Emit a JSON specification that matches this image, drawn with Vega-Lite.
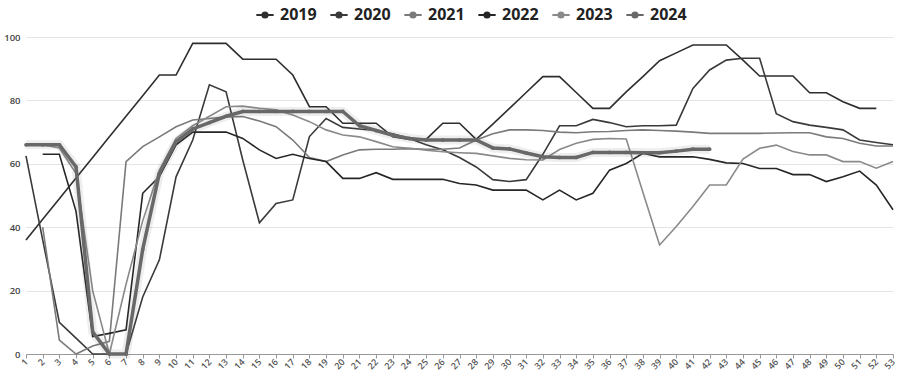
{
  "$schema": "https://vega.github.io/schema/vega-lite/v6.json",
  "width": 867,
  "height": 317,
  "autosize": {"type": "none"},
  "padding": {"left": 26, "top": 37, "right": 7, "bottom": 21},
  "background": "white",
  "config": {"view": {"stroke": null}, "font": "Open Sans"},
  "data": {"values": [
    {"week": 1, "2019": 36, "2020": 62.5, "2023": 66, "2024": 66},
    {"week": 2, "2019": 42.5, "2020": 36, "2021": 40, "2022": 63, "2023": 66, "2024": 66},
    {"week": 3, "2019": 49, "2020": 10, "2021": 4.4, "2022": 63, "2023": 65, "2024": 66},
    {"week": 4, "2019": 55.5, "2020": 5, "2021": 0, "2022": 45, "2023": 57, "2024": 59},
    {"week": 5, "2019": 62, "2020": 0, "2021": 2.5, "2022": 5.5, "2023": 20, "2024": 7},
    {"week": 6, "2019": 68.5, "2020": 0, "2021": 4, "2022": 6.5, "2023": 0, "2024": 0},
    {"week": 7, "2019": 75, "2020": 0, "2021": 60.7, "2022": 7.6, "2023": 22, "2024": 0},
    {"week": 8, "2019": 81.5, "2020": 18, "2021": 65.4, "2022": 50.7, "2023": 42, "2024": 33},
    {"week": 9, "2019": 88, "2020": 29.7, "2021": 68.5, "2022": 56, "2023": 58, "2024": 57},
    {"week": 10, "2019": 88, "2020": 55.9, "2021": 71.7, "2022": 66, "2023": 68, "2024": 67},
    {"week": 11, "2019": 98, "2020": 67.5, "2021": 73.8, "2022": 70, "2023": 72, "2024": 71},
    {"week": 12, "2019": 98, "2020": 84.9, "2021": 74.3, "2022": 70, "2023": 75, "2024": 73},
    {"week": 13, "2019": 98, "2020": 82.7, "2021": 74.8, "2022": 70, "2023": 78, "2024": 75},
    {"week": 14, "2019": 93, "2020": 61.2, "2021": 74.9, "2022": 68, "2023": 78.2, "2024": 76.5},
    {"week": 15, "2019": 93, "2020": 41.4, "2021": 73.5, "2022": 64.4, "2023": 77.5, "2024": 76.5},
    {"week": 16, "2019": 93, "2020": 47.5, "2021": 71.7, "2022": 61.7, "2023": 77, "2024": 76.5},
    {"week": 17, "2019": 88, "2020": 48.6, "2021": 67.5, "2022": 63, "2023": 75.4, "2024": 76.5},
    {"week": 18, "2019": 78, "2020": 68.6, "2021": 62, "2022": 61.7, "2023": 73.3, "2024": 76.5},
    {"week": 19, "2019": 78, "2020": 74.3, "2021": 60.7, "2022": 60.7, "2023": 70.7, "2024": 76.5},
    {"week": 20, "2019": 72.8, "2020": 71.5, "2021": 62.8, "2022": 55.4, "2023": 69.1, "2024": 76.5},
    {"week": 21, "2019": 72.8, "2020": 71, "2021": 64.4, "2022": 55.4, "2023": 68.5, "2024": 72},
    {"week": 22, "2019": 72.8, "2020": 70.5, "2021": 64.6, "2022": 57.2, "2023": 67, "2024": 70.5},
    {"week": 23, "2019": 68.5, "2020": 69.5, "2021": 64.6, "2022": 55.1, "2023": 65.4, "2024": 69},
    {"week": 24, "2019": 67.7, "2020": 68, "2021": 64.8, "2022": 55.1, "2023": 64.9, "2024": 68},
    {"week": 25, "2019": 67.7, "2020": 66, "2021": 64.6, "2022": 55.1, "2023": 64.3, "2024": 67.5},
    {"week": 26, "2019": 72.8, "2020": 64.4, "2021": 64.6, "2022": 55.1, "2023": 63.8, "2024": 67.5},
    {"week": 27, "2019": 72.8, "2020": 62, "2021": 65, "2022": 53.8, "2023": 63.5, "2024": 67.5},
    {"week": 28, "2019": 67.7, "2020": 59, "2021": 67.5, "2022": 53.3, "2023": 63.3, "2024": 67.5},
    {"week": 29, "2019": 72.5, "2020": 55, "2021": 69.5, "2022": 51.7, "2023": 62.5, "2024": 65},
    {"week": 30, "2019": 77.5, "2020": 54.4, "2021": 70.7, "2022": 51.7, "2023": 61.7, "2024": 64.7},
    {"week": 31, "2019": 82.5, "2020": 55, "2021": 70.7, "2022": 51.7, "2023": 61.3, "2024": 63.4},
    {"week": 32, "2019": 87.5, "2020": 63, "2021": 70.5, "2022": 48.6, "2023": 61.2, "2024": 62.2},
    {"week": 33, "2019": 87.5, "2020": 72, "2021": 70, "2022": 51.7, "2023": 64.5, "2024": 62},
    {"week": 34, "2019": 82.5, "2020": 72, "2021": 69.8, "2022": 48.6, "2023": 66.5, "2024": 62},
    {"week": 35, "2019": 77.5, "2020": 74, "2021": 70.1, "2022": 50.7, "2023": 67.7, "2024": 63.6},
    {"week": 36, "2019": 77.5, "2020": 73, "2021": 70.2, "2022": 58, "2023": 68, "2024": 63.6},
    {"week": 37, "2019": 82.7, "2020": 71.7, "2021": 70.5, "2022": 60.1, "2023": 67.8, "2024": 63.6},
    {"week": 38, "2019": 87.5, "2020": 72, "2021": 70.7, "2022": 63.3, "2023": 51, "2024": 63.5},
    {"week": 39, "2019": 92.5, "2020": 72, "2021": 70.5, "2022": 62.2, "2023": 34.4, "2024": 63.5},
    {"week": 40, "2019": 95, "2020": 72.2, "2021": 70.3, "2022": 62.2, "2023": 40.2, "2024": 64},
    {"week": 41, "2019": 97.5, "2020": 83.8, "2021": 70, "2022": 62.2, "2023": 46.5, "2024": 64.6},
    {"week": 42, "2019": 97.5, "2020": 89.6, "2021": 69.6, "2022": 61.4, "2023": 53.3, "2024": 64.6},
    {"week": 43, "2019": 97.5, "2020": 92.7, "2021": 69.6, "2022": 60.3, "2023": 53.3},
    {"week": 44, "2019": 92.7, "2020": 93.3, "2021": 69.6, "2022": 60.1, "2023": 61.5},
    {"week": 45, "2019": 87.7, "2020": 93.3, "2021": 69.6, "2022": 58.5, "2023": 64.9},
    {"week": 46, "2019": 87.7, "2020": 75.8, "2021": 69.7, "2022": 58.5, "2023": 65.9},
    {"week": 47, "2019": 87.7, "2020": 73.3, "2021": 69.8, "2022": 56.6, "2023": 63.9},
    {"week": 48, "2019": 82.4, "2020": 72.2, "2021": 69.8, "2022": 56.6, "2023": 62.8},
    {"week": 49, "2019": 82.4, "2020": 71.5, "2021": 68.5, "2022": 54.4, "2023": 62.8},
    {"week": 50, "2019": 79.6, "2020": 70.7, "2021": 68, "2022": 55.9, "2023": 60.7},
    {"week": 51, "2019": 77.5, "2020": 67.5, "2021": 66.5, "2022": 57.7, "2023": 60.7},
    {"week": 52, "2019": 77.5, "2020": 66.7, "2021": 65.6, "2022": 53.3, "2023": 58.6},
    {"week": 53, "2020": 66, "2021": 65.6, "2022": 45.5, "2023": 60.7}
  ]},
  "transform": [
    {"fold": ["2019", "2020", "2021", "2022", "2023", "2024"], "as": ["year", "value"]}
  ],
  "encoding": {
    "x": {
      "field": "week", "type": "ordinal",
      "scale": {"type": "point", "padding": 0},
      "axis": {
        "title": null, "labelAngle": -45, "labelAlign": "right", "labelBaseline": "middle",
        "labelFontSize": 9, "labelFontWeight": 600, "labelColor": "#555",
        "labelPadding": 2, "labelOverlap": false,
        "domainColor": "#999", "tickColor": "#999", "tickSize": 4, "grid": false
      }
    },
    "y": {
      "field": "value", "type": "quantitative",
      "scale": {"domain": [0, 100], "nice": false},
      "axis": {
        "title": null, "values": [0, 20, 40, 60, 80, 100],
        "labelFontSize": 9.5, "labelFontWeight": 600, "labelColor": "#444",
        "labelPadding": 6, "ticks": false, "domain": false,
        "gridColor": "#e4e4e4", "gridWidth": 1
      }
    }
  },
  "layer": [
    {
      "transform": [{"filter": "datum.year != '2024'"}],
      "mark": {"type": "line", "strokeWidth": 1.6},
      "encoding": {
        "color": {
          "field": "year", "type": "nominal",
          "scale": {
            "domain": ["2019", "2020", "2021", "2022", "2023", "2024"],
            "range": ["#2e2e2e", "#3a3a3a", "#7a7a7a", "#262626", "#8a8a8a", "#686868"]
          },
          "legend": {
            "title": null, "orient": "none", "direction": "horizontal",
            "legendX": 229, "legendY": -32,
            "labelFontSize": 16, "labelFontWeight": "bold", "labelColor": "#222",
            "labelFont": "Open Sans",
            "symbolType": "M-1,0H-0.3M0.3,0H1M-0.3,0A0.3,0.3 0 1,1 0.3,0A0.3,0.3 0 1,1 -0.3,0",
            "symbolSize": 300, "symbolStrokeWidth": 2, "labelOffset": 5, "columnPadding": 9,
            "encode": {"symbols": {"update": {"fill": {"scale": "color", "field": "value"}}}}
          }
        },
        "detail": {"field": "year"}
      }
    },
    {
      "transform": [{"filter": "datum.year == '2024'"}],
      "mark": {"type": "line", "strokeWidth": 9, "opacity": 0.1, "color": "#555"},
      "encoding": {}
    },
    {
      "transform": [{"filter": "datum.year == '2024'"}],
      "mark": {"type": "line", "strokeWidth": 3.5},
      "encoding": {"color": {"field": "year", "type": "nominal"}}
    },
    {
      "transform": [{"filter": "datum.year == '2024'"}],
      "mark": {"type": "point", "filled": true, "size": 14, "opacity": 1},
      "encoding": {"color": {"field": "year", "type": "nominal", "legend": null}}
    }
  ]
}
